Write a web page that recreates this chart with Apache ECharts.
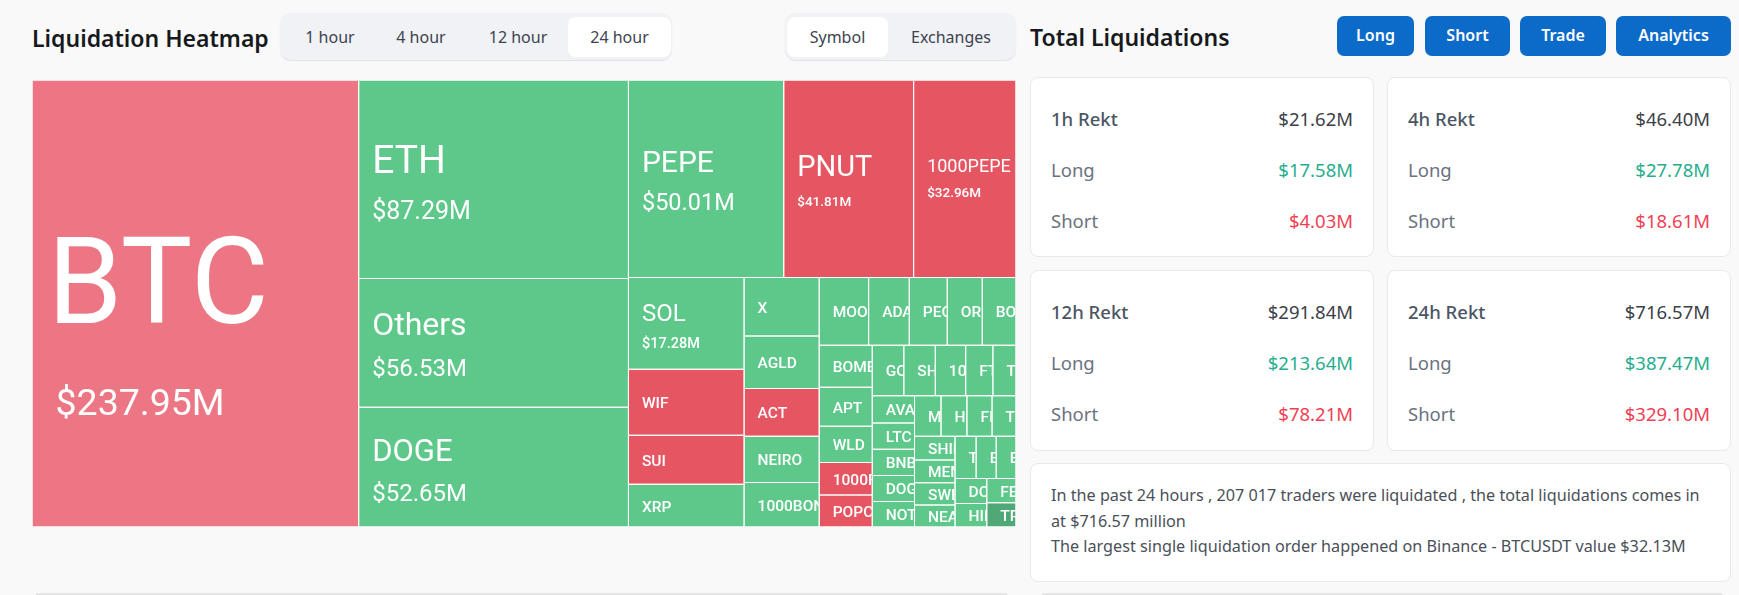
<!DOCTYPE html>
<html>
<head>
<meta charset="utf-8">
<title>Liquidation Heatmap</title>
<script src="https://cdn.jsdelivr.net/npm/echarts@6/dist/echarts.min.js"></script>
<style>
html, body { margin: 0; padding: 0; background: #f9f9f9; overflow: hidden; }
body { width: 1739px; height: 595px; position: relative; font-family: "Noto Sans", sans-serif; }
h2 { position: absolute; margin: 0; font-size: 23px; font-weight: 600; color: #17191d; line-height: 30px; white-space: nowrap; }
.tabs { position: absolute; top: 13px; height: 47px; border-radius: 11px; background: #f1f2f6; box-shadow: 0 1px 1px #dfe1e6; }
.tab { position: absolute; top: 4px; height: 40px; line-height: 40px; border-radius: 8px; text-align: center; font-size: 16px; color: #3d4350; }
.tab.on { background: #fff; }
.btn { position: absolute; top: 16px; height: 40px; line-height: 38px; border-radius: 7px; background: #0c6bc9; color: #fff; font-size: 16px; font-weight: 600; text-align: center; }
.card { position: absolute; box-sizing: border-box; background: #fff; border: 1px solid #e7e9ec; border-radius: 8px; }
.row { position: absolute; left: 20px; right: 20px; height: 30px; line-height: 30px; font-size: 18.5px; color: #6b7280; }
.row b { font-weight: 500; color: #4b5563; }
.row span { position: absolute; right: 0; top: 0; color: #3c4048; }
.row span.long { color: #27ad8e; }
.row span.short { color: #f03f55; }
.note { position: absolute; left: 20px; top: 19px; font-size: 16.2px; line-height: 25.5px; color: #4a5058; white-space: nowrap; }
#chart { position: absolute; left: 32px; top: 80px; width: 984px; height: 447px; }
.foot { position: absolute; top: 593px; height: 2px; background: #e6e6e6; }
</style>
</head>
<body>
<h2 style="left:32px;top:23px">Liquidation Heatmap</h2>
<div class="tabs" id="periodTabs" style="left:280px;width:392px"></div>
<div class="tabs" id="groupTabs" style="left:785px;width:231px"></div>
<h2 style="left:1030px;top:22px">Total Liquidations</h2>
<div id="buttons"></div>
<div id="chart"></div>
<div id="cards"></div>
<div class="foot" style="left:36px;width:971px"></div>
<div class="foot" style="left:1042px;width:680px"></div>

<script>
var symbols = ['BTC', 'ETH', 'Others', 'DOGE', 'PEPE', 'PNUT', '1000PEPE',
    'SOL', 'WIF', 'SUI', 'XRP',
    'X', 'AGLD', 'ACT', 'NEIRO', '1000BONK',
    'MOODENG', 'ADA', 'PEOPLE', 'ORDI', 'BOBA',
    'BOME', 'APT', 'WLD', '1000FLOKI', 'POPCAT',
    'GOAT', 'SHELL', '1000SATS', 'FTM', 'TAO',
    'AVAX', 'LTC', 'BNB', 'DOGS', 'NOT',
    'MEW', 'HIPPO', 'FIL', 'TURBO',
    'SHIB', 'MEME', 'SWELL', 'NEAR',
    'TIA', 'ENA', 'EIGEN',
    'DOT', 'HIFI', 'FET', 'TRX'];
var liquidations = [237.95, 87.29, 56.53, 52.65, 50.01, 41.81, 32.96,
    17.28, 12.44, 9.24, 8.05,
    7.14, 6.43, 5.83, 5.66, 5.46,
    5.45, 4.48, 4.19, 3.86, 3.72,
    3.63, 3.37, 3.13, 2.82, 2.76,
    2.60, 2.59, 2.50, 2.24, 1.90,
    1.87, 1.82, 1.80, 1.79, 1.76,
    1.75, 1.71, 1.66, 1.58,
    1.56, 1.50, 1.47, 1.46,
    1.45, 1.38, 1.36,
    1.29, 1.22, 1.16, 1.15];
// which side took most of the liquidations
var sides = ['shortSoft', 'long', 'long', 'long', 'long', 'short', 'short',
    'long', 'short', 'short', 'long',
    'long', 'long', 'short', 'long', 'long',
    'long', 'long', 'long', 'long', 'long',
    'long', 'long', 'long', 'short', 'short',
    'long', 'long', 'long', 'long', 'long',
    'long', 'long', 'long', 'long', 'long',
    'long', 'long', 'long', 'long',
    'long', 'long', 'long', 'long',
    'long', 'long', 'long',
    'long', 'long', 'long', 'longDeep'];

var periods = ['1 hour', '4 hour', '12 hour', '24 hour'];
var groupings = ['Symbol', 'Exchanges'];
var actions = ['Long', 'Short', 'Trade', 'Analytics'];

var rektTitles = ['1h Rekt', '4h Rekt', '12h Rekt', '24h Rekt'];
var rektTotals = ['$21.62M', '$46.40M', '$291.84M', '$716.57M'];
var rektLongs = ['$17.58M', '$27.78M', '$213.64M', '$387.47M'];
var rektShorts = ['$4.03M', '$18.61M', '$78.21M', '$329.10M'];

var noteLines = ['In the past 24 hours , 207 017 traders were liquidated , the total liquidations comes in',
    'at $716.57 million',
    'The largest single liquidation order happened on Binance - BTCUSDT value $32.13M'];

var sideColors = {
    long: '#5dc88a',
    longDeep: '#4fa875',
    short: '#e65562',
    shortSoft: '#ec7683'
};

// label sizes of the blocks big enough to show more than the small default
var labelStyles = {
    BTC: {size: 120, sub: 37.5, top: 205, bottom: 21, nameIndent: 2, indent: 10},
    ETH: {size: 39, sub: 25, top: 66, bottom: 33, nameIndent: 0, indent: 0},
    Others: {size: 32, sub: 24, top: 54, bottom: 31, nameIndent: 0, indent: 0},
    DOGE: {size: 31, sub: 24, top: 55, bottom: 28, nameIndent: 0, indent: 0},
    PEPE: {size: 30, sub: 23.5, top: 50, bottom: 29, nameIndent: 0, indent: 0},
    PNUT: {size: 29, sub: 13.5, top: 48, bottom: 20, nameIndent: 0, indent: 0},
    '1000PEPE': {size: 18, sub: 13.5, top: 29, bottom: 22, nameIndent: 0, indent: 0},
    SOL: {size: 24, sub: 14.5, top: 41, bottom: 17, nameIndent: 0, indent: 0}
};

function money(v)
{
    return '$' + v.toFixed(2) + 'M';
}

function build_rich()
{
    var rich = {small: {fontSize: 15.5, fontWeight: 500, color: '#fff', padding: [4, 0, 0, 0]}};
    Object.keys(labelStyles).forEach(function (name, i) {
	var s = labelStyles[name];
	rich['n' + i] = {fontSize: s.size, lineHeight: s.top, color: '#fff',
	    padding: [0, 0, 0, s.nameIndent]};
	rich['v' + i] = {fontSize: s.sub, lineHeight: s.bottom, color: '#fff',
	    padding: [0, 0, 0, s.indent], fontWeight: s.sub < 20 ? 500 : 400};
    });
    return rich;
}

function label_text(params)
{
    var keys = Object.keys(labelStyles);
    var i = keys.indexOf(params.name);
    if (i < 0) {
	return '{small|' + params.name + '}';
    }
    return '{n' + i + '|' + params.name + '}\n{v' + i + '|' + money(params.value) + '}';
}

function setup_controls()
{
    var periodX = [6, 99, 189, 288], periodW = [88, 84, 98, 103];
    periods.forEach(function (p, i) {
	var d = document.createElement('div');
	d.className = 'tab' + (i == 3 ? ' on' : '');
	d.style.left = periodX[i] + 'px';
	d.style.width = periodW[i] + 'px';
	d.textContent = p;
	document.getElementById('periodTabs').appendChild(d);
    });
    var groupX = [2, 102], groupW = [101, 128];
    groupings.forEach(function (g, i) {
	var d = document.createElement('div');
	d.className = 'tab' + (i == 0 ? ' on' : '');
	d.style.left = groupX[i] + 'px';
	d.style.width = groupW[i] + 'px';
	d.textContent = g;
	document.getElementById('groupTabs').appendChild(d);
    });
    var actionX = [1337, 1425, 1520, 1616], actionW = [77, 85, 86, 115];
    actions.forEach(function (a, i) {
	var d = document.createElement('div');
	d.className = 'btn';
	d.style.left = actionX[i] + 'px';
	d.style.width = actionW[i] + 'px';
	d.textContent = a;
	document.getElementById('buttons').appendChild(d);
    });
}

function setup_cards()
{
    var cards = document.getElementById('cards');
    var cardX = [1030, 1387, 1030, 1387], cardY = [77, 77, 270, 270];
    var cardH = [180, 180, 181, 181];
    rektTitles.forEach(function (t, i) {
	var c = document.createElement('div');
	c.className = 'card';
	c.style.cssText = 'left:' + cardX[i] + 'px;top:' + cardY[i] + 'px;width:344px;height:' + cardH[i] + 'px';
	c.innerHTML =
	    '<div class="row" style="top:26px"><b>' + t + '</b><span>' + rektTotals[i] + '</span></div>' +
	    '<div class="row" style="top:77px">Long<span class="long">' + rektLongs[i] + '</span></div>' +
	    '<div class="row" style="top:128px">Short<span class="short">' + rektShorts[i] + '</span></div>';
	cards.appendChild(c);
    });
    var n = document.createElement('div');
    n.className = 'card';
    n.style.cssText = 'left:1030px;top:463px;width:701px;height:119px';
    n.innerHTML = '<div class="note">' + noteLines.join('<br>') + '</div>';
    cards.appendChild(n);
}

function setup_chart()
{
    var chart = echarts.init(document.getElementById('chart'));
    var items = symbols.map(function (name, i) {
	return {name: name, value: liquidations[i],
	    itemStyle: {color: sideColors[sides[i]]}};
    });

    chart.setOption({
	animation: false,
	series: [{
	    type: 'treemap',
	    left: 0,
	    top: 0,
	    width: '100%',
	    height: '100%',
	    roam: false,
	    nodeClick: false,
	    breadcrumb: {show: false},
	    visibleMin: 0,
	    label: {
		show: true,
		position: 'insideLeft',
		distance: 13,
		padding: 0,
		overflow: 'none',
		fontFamily: 'Roboto',
		formatter: label_text,
		rich: build_rich()
	    },
	    levels: [
		{itemStyle: {borderWidth: 0, gapWidth: 0}},
		{itemStyle: {borderWidth: 0.5, borderColor: '#fff', gapWidth: 0}}
	    ],
	    data: items
	}]
    });

    /* names in narrow blocks are cut off at the block edge, not truncated,
       and the label block is centred rather than filling the whole rect.
       treemap forces the label size back in beforeUpdate, so drop that too */
    chart.getZr().storage.traverse(function (el) {
	var text = el.getTextContent && el.getTextContent();
	if (text && el.shape) {
	    text.beforeUpdate = function () {};
	    text.setStyle({width: null, height: null});
	    el.setClipPath(new echarts.graphic.Rect({shape: {
		x: el.shape.x, y: el.shape.y,
		width: el.shape.width, height: el.shape.height
	    }}));
	}
    });
    chart.getZr().refresh();
}

setup_controls();
setup_cards();
setup_chart();
</script>
</body>
</html>
